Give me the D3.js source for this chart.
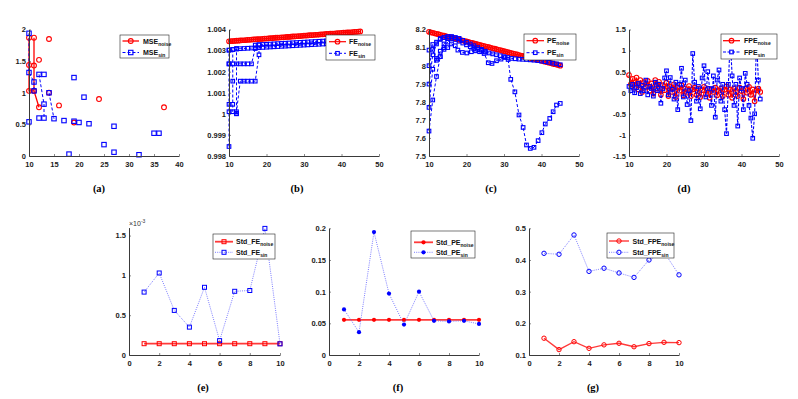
<!DOCTYPE html>
<html><head><meta charset="utf-8">
<script src="https://cdn.jsdelivr.net/npm/d3@7"></script>
<style>body{margin:0;background:#fff}svg{display:block}</style>
</head><body>
<svg id="chart" width="798" height="399"></svg>
<script>
// ---------- data ----------
// (a) MSE (null = gap in the line)
const mseNoiseX = [10,10,10,11, null, 11,11,11,12, null, 12, null, 14, null, 14, null, 16, null, 19, null, 24, null, 37];
const mseNoiseY = [1.87,1.44,1.03,1.03, null, 1.87,1.43,1.03,0.77, null, 1.52, null, 1.85, null, 1.0, null, 0.8, null, 0.53, null, 0.9, null, 0.77];
const mseSinX = [10,10,11,11, null, 12,13,13, null, 14,15, null, 10, null, 12, null, 13, null, 17, null, 18, null, 19, null, 19, null, 20, null, 21, null, 22, null, 25, null, 27, null, 27, null, 32, null, 35, null, 36];
const mseSinY = [1.94,1.32,1.17,1.03, null, 1.29,0.82,0.6, null, 1.0,0.59, null, 0.54, null, 0.6, null, 1.29, null, 0.56, null, 0.03, null, 1.24, null, 0.55, null, 0.53, null, 0.93, null, 0.51, null, 0.18, null, 0.47, null, 0.06, null, 0.02, null, 0.36, null, 0.36];

// shared half-step x grid (10 .. 45)
const halfStepX = [10,10.5,11,11.5,12,12.5,13,13.5,14,14.5,15,15.5,16,16.5,17,17.5,18,18.5,19,19.5,20,20.5,21,21.5,22,22.5,23,23.5,24,24.5,25,25.5,26,26.5,27,27.5,28,28.5,29,29.5,30,30.5,31,31.5,32,32.5,33,33.5,34,34.5,35,35.5,36,36.5,37,37.5,38,38.5,39,39.5,40,40.5,41,41.5,42,42.5,43,43.5,44,44.5,45];

// (b) FE
const feNoiseY = [1.00344,1.00345,1.00345,1.00346,1.00347,1.00347,1.00348,1.00349,1.00349,1.0035,1.00351,1.00351,1.00352,1.00353,1.00353,1.00354,1.00355,1.00355,1.00356,1.00357,1.00357,1.00358,1.00359,1.00359,1.0036,1.00361,1.00361,1.00362,1.00363,1.00363,1.00364,1.00365,1.00365,1.00366,1.00367,1.00367,1.00368,1.00369,1.00369,1.0037,1.00371,1.00371,1.00372,1.00373,1.00373,1.00374,1.00375,1.00375,1.00376,1.00377,1.00377,1.00378,1.00379,1.00379,1.0038,1.00381,1.00381,1.00382,1.00383,1.00383,1.00384,1.00385,1.00385,1.00386,1.00387,1.00387,1.00388,1.00389,1.00389,1.0039,1.00391];
const feSinX = [10,10,10,10,10, null,
  11,11,11,11,12,12, null,
  12,12,13,14,15,16,17,18,18, null,
  10,11,12,13,14,15,16,17, null,
  10,11,12,13,14,15,16,17,18,19,20,21,22,23,24,25,26,27,28,29,30,31,32,33,34,35,36,37,38,39,40,41,42,43,44,45, null,
  17,18,19,20,21,22,23,24,25,26,27,28,29,30,31,32,33,34,35,36,37,38,39,40,41,42,43,44,45];
const feSinY = [0.99845,1.0001,1.00045,1.00237,1.00302, null,
  1.00305,1.00155,1.00045,1.0001,1.0000,1.0031, null,
  1.00002,1.0001,1.00155,1.00155,1.00155,1.00155,1.00155,1.0028,1.00328, null,
  1.00237,1.00237,1.00237,1.00237,1.00237,1.00237,1.00237,1.0031, null,
  1.00302,1.00305,1.00307,1.00309,1.0031,1.00311,1.00312,1.00313,1.00314,1.00315,1.00316,1.00317,1.00318,1.00319,1.0032,1.00321,1.00322,1.00323,1.00324,1.00325,1.00326,1.00327,1.00328,1.00329,1.0033,1.00331,1.00332,1.00333,1.00334,1.00335,1.00336,1.00337,1.00338,1.00339,1.0034,1.00341, null,
  1.00326,1.00327,1.00329,1.0033,1.00331,1.00332,1.00333,1.00334,1.00335,1.00336,1.00337,1.00338,1.00339,1.0034,1.00341,1.00342,1.00343,1.00344,1.00345,1.00346,1.00347,1.00348,1.00349,1.0035,1.00351,1.00352,1.00353,1.00354,1.00355];

// (c) PE
const peNoiseY = [8.187,8.184,8.182,8.179,8.176,8.174,8.171,8.168,8.166,8.163,8.16,8.158,8.155,8.152,8.15,8.147,8.144,8.142,8.139,8.136,8.134,8.131,8.128,8.126,8.123,8.12,8.118,8.115,8.112,8.11,8.107,8.104,8.102,8.099,8.096,8.094,8.091,8.088,8.086,8.083,8.08,8.078,8.075,8.072,8.07,8.067,8.064,8.062,8.059,8.056,8.054,8.051,8.048,8.046,8.043,8.04,8.038,8.035,8.032,8.03,8.027,8.024,8.022,8.019,8.016,8.014,8.011,8.008,8.006,8.003,8.0];
const peSinX = [10,11,12,13,14,15,16,17,18,19,20,21,22,23,24,25,26,27,28,29,30,31,32,33,34,35,36,37,38,39,40,41,42,43,44,45, null,
  10,11,12,13,14,15,16,17,18,19,20,21,22,23,24,25, null,
  10,11,12,13,14,15,16,17,18, null,
  10,11,12,13,14,15, null,
  10,11,12,13,14,15,16,17,17.7,18.9,20.1,21.3,22.4,23.5,24.7,25.8,26.8,28,29.2,30.3,31.1,31.8,32.9,34,35.1,36,37,38,39.1,40.1,41,42.2,43.1,44,45];
const peSinY = [7.638,7.81,7.94,8.05,8.1,8.13,8.15,8.145,8.135,8.125,8.115,8.105,8.095,8.09,8.085,8.075,8.07,8.065,8.06,8.055,8.05,8.045,8.04,8.038,8.036,8.035,8.034,8.032,8.03,8.028,8.025,8.022,8.018,8.014,8.01,8.005, null,
  7.769,7.98,8.04,8.08,8.12,8.15,8.16,8.155,8.15,8.14,8.13,8.12,8.11,8.1,8.09,8.08, null,
  7.898,8.06,8.12,8.145,8.155,8.16,8.16,8.155,8.15, null,
  8.0,8.09,8.13,8.15,8.155,8.16, null,
  8.086,8.117,8.03,8.05,8.09,8.1,8.12,8.11,8.086,8.073,8.07,8.077,8.082,8.077,8.067,8.016,8.012,8.027,8.036,8.045,8.034,7.924,7.855,7.727,7.658,7.561,7.542,7.548,7.585,7.629,7.677,7.708,7.745,7.782,7.791];

// (d) FPE
const fpeNoiseY = [0.42,0.2,0.33,0.12,0.36,0.08,0.3,0.02,0.25,0.14,
  0.28,0.05,0.22,-0.02,0.3,0.1,0.26,-0.05,0.18,0.06,
  0.24,-0.08,0.15,0.02,0.2,-0.1,0.12,0.05,0.18,-0.06,
  0.1,0.0,0.16,-0.08,0.08,0.12,-0.05,0.1,-0.1,0.06,
  0.14,-0.04,0.1,-0.12,0.08,0.02,0.12,-0.06,0.05,0.1,
  -0.08,0.07,0.15,-0.05,0.08,-0.12,0.1,0.02,-0.08,0.12,
  0.04,-0.15,0.1,0.0,0.14,-0.05,0.08,-0.2,0.06,0.1,
  0.02];
const fpeSinY = [0.15,0.05,0.2,0.0,0.12,0.22,-0.02,0.18,0.05,0.3,
  -0.05,0.15,0.1,-0.08,0.25,0.05,0.2,-0.25,0.1,0.35,
  0.52,-0.05,0.36,0.08,-0.15,0.25,-0.4,0.2,0.58,-0.1,
  0.3,-0.28,0.05,-0.66,0.93,0.25,-0.2,0.15,-0.38,0.35,
  0.64,-0.1,0.5,0.1,-0.3,0.4,-0.58,0.3,0.54,-0.2,
  0.2,-0.4,-0.97,0.2,1.3,0.4,-0.3,0.2,-0.79,0.35,
  0.1,-0.4,0.46,0.2,-0.3,-0.6,-1.08,-0.5,1.3,0.3,
  -0.15];

// (e)-(g) standard deviations
const stdX = [1,2,3,4,5,6,7,8,9,10];
const stdFeNoise = [0.142,0.142,0.142,0.142,0.142,0.142,0.142,0.142,0.142,0.142]; // x 10^-3
const stdFeSin = [0.79,1.03,0.56,0.35,0.85,0.18,0.80,0.81,1.59,0.14];             // x 10^-3
const stdPeNoise = [0.0555,0.0555,0.0555,0.0555,0.0555,0.0555,0.0555,0.0555,0.0555,0.0555];
const stdPeSin = [0.072,0.036,0.194,0.097,0.048,0.100,0.054,0.053,0.054,0.049];
const stdFpeNoise = [0.153,0.117,0.142,0.121,0.132,0.137,0.126,0.136,0.140,0.139];
const stdFpeSin = [0.421,0.418,0.479,0.364,0.374,0.359,0.345,0.400,0.425,0.353];

// ticks
const aXTicks = [10,15,20,25,30,35,40], aXLabels = ['10','15','20','25','30','35','40'];
const aYTicks = [0,0.5,1,1.5,2], aYLabels = ['0','0.5','1','1.5','2'];
const bcdXTicks = [10,20,30,40,50], bcdXLabels = ['10','20','30','40','50'];
const bYTicks = [0.998,0.999,1,1.001,1.002,1.003,1.004], bYLabels = ['0.998','0.999','1','1.001','1.002','1.003','1.004'];
const cYTicks = [7.5,7.6,7.7,7.8,7.9,8,8.1,8.2], cYLabels = ['7.5','7.6','7.7','7.8','7.9','8','8.1','8.2'];
const dYTicks = [-1.5,-1,-0.5,0,0.5,1,1.5], dYLabels = ['-1.5','-1','-0.5','0','0.5','1','1.5'];
const stdXTicks = [0,2,4,6,8,10], stdXLabels = ['0','2','4','6','8','10'];
const eYTicks = [0,0.5,1,1.5], eYLabels = ['0','0.5','1','1.5'];
const fYTicks = [0,0.05,0.1,0.15,0.2], fYLabels = ['0','0.05','0.1','0.15','0.2'];
const gYTicks = [0.1,0.2,0.3,0.4,0.5], gYLabels = ['0.1','0.2','0.3','0.4','0.5'];

// ---------- drawing ----------
const svg = d3.select('#chart');
const FONT = "'Liberation Sans', Arial, Helvetica, sans-serif";
const RED = '#ff0000', BLUE = '#0000ff';
let clipId = 0;

function drawMarker(g, type, cx, cy, size, color, sw) {
  const w = sw || 1;
  if (type === 'circle') {
    g.append('circle').attr('cx', cx).attr('cy', cy).attr('r', size / 2)
      .attr('fill', 'none').attr('stroke', color).attr('stroke-width', w);
  } else if (type === 'square') {
    g.append('rect').attr('x', cx - size / 2).attr('y', cy - size / 2)
      .attr('width', size).attr('height', size)
      .attr('fill', 'none').attr('stroke', color).attr('stroke-width', w);
  } else if (type === 'dot') {
    g.append('circle').attr('cx', cx).attr('cy', cy).attr('r', size / 2).attr('fill', color);
  }
}

function panel(cfg) {
  const x = d3.scaleLinear().domain(cfg.xDomain).range([cfg.left, cfg.right]);
  const y = d3.scaleLinear().domain(cfg.yDomain).range([cfg.bottom, cfg.top]);
  const g = svg.append('g');
  const id = 'clip' + (clipId++);
  svg.append('clipPath').attr('id', id).append('rect')
    .attr('x', cfg.left - 4).attr('y', cfg.top - 4)
    .attr('width', cfg.right - cfg.left + 8).attr('height', cfg.bottom - cfg.top + 8);

  // series
  const sg = g.append('g').attr('clip-path', `url(#${id})`);
  cfg.series.forEach(s => {
    const pts = s.xs.map((v, i) => [v, s.ys[i]]);
    const line = d3.line().defined(d => d[0] != null && d[1] != null)
      .x(d => x(d[0])).y(d => y(d[1]));
    sg.append('path').attr('d', line(pts)).attr('fill', 'none')
      .attr('stroke', s.lineColor).attr('stroke-width', s.lw)
      .attr('stroke-dasharray', s.dash || null);
    const mg = sg.append('g');
    pts.filter(d => d[0] != null && d[1] != null).forEach(d => {
      drawMarker(mg, s.marker, x(d[0]), y(d[1]), s.msize, s.markerColor, s.msw);
    });
  });

  // axes
  const xa = d3.axisBottom(x).tickValues(cfg.xTicks).tickFormat((d, i) => cfg.xLabels[i])
    .tickSizeInner(-2).tickSizeOuter(0).tickPadding(5.5);
  const ya = d3.axisLeft(y).tickValues(cfg.yTicks).tickFormat((d, i) => cfg.yLabels[i])
    .tickSizeInner(-2).tickSizeOuter(0).tickPadding(3);
  const gx = g.append('g').attr('transform', `translate(0,${cfg.bottom})`).call(xa);
  const gy = g.append('g').attr('transform', `translate(${cfg.left},0)`).call(ya);
  [gx, gy].forEach(a => {
    a.select('.domain').attr('stroke', '#3a3a3a').attr('stroke-width', 1);
    a.selectAll('.tick line').attr('stroke', '#3a3a3a').attr('stroke-width', 0.6);
    a.selectAll('.tick text').attr('fill', '#1a1a1a').style('font-family', FONT)
      .style('font-size', '7.5px').style('font-weight', 'bold');
  });

  // legend
  const L = cfg.legend;
  const lg = g.append('g');
  lg.append('rect').attr('x', L.x).attr('y', L.y).attr('width', L.w).attr('height', L.h)
    .attr('fill', '#fff').attr('stroke', '#222').attr('stroke-width', 0.6);
  cfg.series.forEach((s, i) => {
    const ry = L.rows[i];
    lg.append('line').attr('x1', L.lx1).attr('x2', L.lx2).attr('y1', ry).attr('y2', ry)
      .attr('stroke', s.lineColor).attr('stroke-width', s.lw).attr('stroke-dasharray', s.dash || null);
    drawMarker(lg, s.marker, (L.lx1 + L.lx2) / 2, ry, s.msize, s.markerColor, s.msw);
    const t = lg.append('text').attr('x', L.tx).attr('y', ry + 2.5)
      .style('font-family', FONT).style('font-size', '7px').style('font-weight', 'bold').attr('fill', '#111');
    t.append('tspan').text(s.name);
    t.append('tspan').attr('dy', 2).style('font-size', '5px').text(s.sub);
  });

  // panel label
  svg.append('text').attr('x', cfg.label.x).attr('y', cfg.label.y).attr('text-anchor', 'middle')
    .style('font-family', "'Liberation Serif', 'Times New Roman', serif")
    .style('font-size', '10.5px').style('font-weight', 'bold').attr('fill', '#000')
    .text(cfg.label.text);
  return { x, y, g };
}

// (a)
panel({
  left: 29, right: 179, top: 29.5, bottom: 156, xDomain: [10, 40], yDomain: [0, 2],
  xTicks: aXTicks, xLabels: aXLabels, yTicks: aYTicks, yLabels: aYLabels,
  series: [
    { xs: mseNoiseX, ys: mseNoiseY, lineColor: RED, markerColor: RED, lw: 1.3, marker: 'circle', msize: 4.8, msw: 1.1, name: 'MSE', sub: 'noise' },
    { xs: mseSinX, ys: mseSinY, lineColor: BLUE, markerColor: BLUE, lw: 1, dash: '3,2', marker: 'square', msize: 4.4, msw: 1.1, name: 'MSE', sub: 'sin' }
  ],
  legend: { x: 120, y: 35, w: 49, h: 23, rows: [41, 52.5], lx1: 122.5, lx2: 139, tx: 143 },
  label: { x: 99, y: 192, text: '(a)' }
});

// (b)
panel({
  left: 229, right: 379, top: 29.5, bottom: 156, xDomain: [10, 50], yDomain: [0.998, 1.004],
  xTicks: bcdXTicks, xLabels: bcdXLabels, yTicks: bYTicks, yLabels: bYLabels,
  series: [
    { xs: halfStepX, ys: feNoiseY, lineColor: RED, markerColor: RED, lw: 1.2, marker: 'circle', msize: 4.6, msw: 1.1, name: 'FE', sub: 'noise' },
    { xs: feSinX, ys: feSinY, lineColor: BLUE, markerColor: BLUE, lw: 1, dash: '3,2', marker: 'square', msize: 3.6, msw: 1.1, name: 'FE', sub: 'sin' }
  ],
  legend: { x: 326, y: 35, w: 49, h: 25, rows: [41.7, 53.3], lx1: 329, lx2: 346, tx: 349 },
  label: { x: 297, y: 192, text: '(b)' }
});

// (c)
panel({
  left: 429, right: 579, top: 29.5, bottom: 156, xDomain: [10, 50], yDomain: [7.5, 8.2],
  xTicks: bcdXTicks, xLabels: bcdXLabels, yTicks: cYTicks, yLabels: cYLabels,
  series: [
    { xs: halfStepX, ys: peNoiseY, lineColor: RED, markerColor: RED, lw: 1.2, marker: 'circle', msize: 4.6, msw: 1.1, name: 'PE', sub: 'noise' },
    { xs: peSinX, ys: peSinY, lineColor: BLUE, markerColor: BLUE, lw: 1, dash: '3,2', marker: 'square', msize: 3.6, msw: 1.1, name: 'PE', sub: 'sin' }
  ],
  legend: { x: 524, y: 34, w: 52, h: 26, rows: [40.7, 52.7], lx1: 526.5, lx2: 544, tx: 547 },
  label: { x: 491, y: 192, text: '(c)' }
});

// (d)
panel({
  left: 629, right: 779, top: 29.5, bottom: 156, xDomain: [10, 50], yDomain: [-1.5, 1.5],
  xTicks: bcdXTicks, xLabels: bcdXLabels, yTicks: dYTicks, yLabels: dYLabels,
  series: [
    { xs: halfStepX, ys: fpeNoiseY, lineColor: RED, markerColor: RED, lw: 1.3, marker: 'circle', msize: 4.6, msw: 1.1, name: 'FPE', sub: 'noise' },
    { xs: halfStepX, ys: fpeSinY, lineColor: BLUE, markerColor: BLUE, lw: 1.1, dash: '3,1.5', marker: 'square', msize: 3.6, msw: 1.1, name: 'FPE', sub: 'sin' }
  ],
  legend: { x: 721, y: 34, w: 56, h: 25, rows: [40.7, 52], lx1: 723, lx2: 740, tx: 744 },
  label: { x: 684, y: 192, text: '(d)' }
});

// (e)
panel({
  left: 129, right: 280, top: 227.6, bottom: 355, xDomain: [0, 10], yDomain: [0, 1.6],
  xTicks: stdXTicks, xLabels: stdXLabels, yTicks: eYTicks, yLabels: eYLabels,
  series: [
    { xs: stdX, ys: stdFeNoise, lineColor: '#ff3a3a', markerColor: RED, lw: 1.8, marker: 'square', msize: 4, name: 'Std_FE', sub: 'noise' },
    { xs: stdX, ys: stdFeSin, lineColor: '#5a5aff', markerColor: BLUE, lw: 0.8, dash: '1,1.2', marker: 'square', msize: 4, name: 'Std_FE', sub: 'sin' }
  ],
  legend: { x: 213, y: 234, w: 62, h: 25, rows: [241.7, 252.3], lx1: 215, lx2: 233, tx: 236 },
  label: { x: 203, y: 391, text: '(e)' }
});
// exponent label
svg.append('text').attr('x', 129).attr('y', 226).style('font-family', FONT)
  .style('font-size', '7px').attr('fill', '#333')
  .call(t => { t.append('tspan').text('\u00d710'); t.append('tspan').attr('dy', -3).style('font-size', '5px').text('-3'); });

// (f)
panel({
  left: 329, right: 479, top: 228.3, bottom: 355, xDomain: [0, 10], yDomain: [0, 0.2],
  xTicks: stdXTicks, xLabels: stdXLabels, yTicks: fYTicks, yLabels: fYLabels,
  series: [
    { xs: stdX, ys: stdPeNoise, lineColor: '#ff3a3a', markerColor: RED, lw: 1.8, marker: 'dot', msize: 4.2, name: 'Std_PE', sub: 'noise' },
    { xs: stdX, ys: stdPeSin, lineColor: '#5a5aff', markerColor: BLUE, lw: 0.8, dash: '1,1.2', marker: 'dot', msize: 4.2, name: 'Std_PE', sub: 'sin' }
  ],
  legend: { x: 411, y: 231, w: 64, h: 27, rows: [242.3, 252.3], lx1: 414, lx2: 433, tx: 436 },
  label: { x: 398, y: 391, text: '(f)' }
});

// (g)
panel({
  left: 529, right: 679, top: 228.3, bottom: 355, xDomain: [0, 10], yDomain: [0.1, 0.5],
  xTicks: stdXTicks, xLabels: stdXLabels, yTicks: gYTicks, yLabels: gYLabels,
  series: [
    { xs: stdX, ys: stdFpeNoise, lineColor: '#ff3a3a', markerColor: RED, lw: 1.4, marker: 'circle', msize: 4.4, name: 'Std_FPE', sub: 'noise' },
    { xs: stdX, ys: stdFpeSin, lineColor: '#5a5aff', markerColor: BLUE, lw: 0.8, dash: '1,1.2', marker: 'circle', msize: 4.4, name: 'Std_FPE', sub: 'sin' }
  ],
  legend: { x: 607, y: 233, w: 67, h: 25, rows: [241, 252.3], lx1: 609, lx2: 629, tx: 632.5 },
  label: { x: 593, y: 391, text: '(g)' }
});
</script>
</body></html>
